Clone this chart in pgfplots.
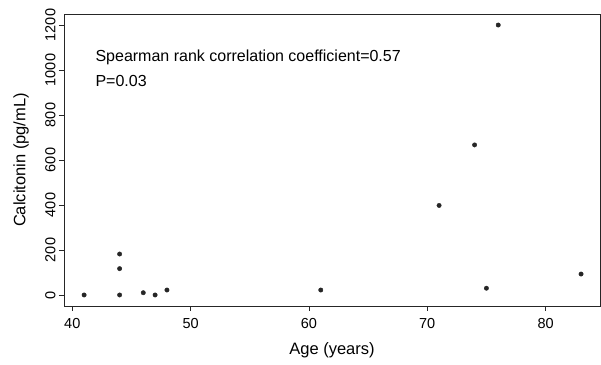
\documentclass[border=0pt]{standalone}
\usepackage{pgfplots}
\pgfplotsset{compat=1.18}
\usetikzlibrary{calc}
\usepackage{fontspec}
\setmainfont{Liberation Sans}
\begin{document}
\begin{tikzpicture}
\begin{axis}[
  name=ax,
  scale only axis,
  width=536pt, height=292pt,
  xmin=39.3, xmax=84.6,
  ymin=-49, ymax=1249,
  xtick={40,50,60,70,80},
  ytick={0,200,400,600,800,1000,1200},
  tick pos=left,
  tick align=outside,
  major tick length=5pt,
  tick style={line width=0.7pt, color=black!85},
  axis line style={line width=0.9pt, color=black!85},
  yticklabel style={rotate=90, anchor=south, font=\fontsize{14.5}{16}\selectfont},
  xticklabel style={font=\fontsize{14.5}{16}\selectfont, yshift=-4pt},
  /pgf/number format/assume math mode=true,
  /pgf/number format/1000 sep={},
  scaled y ticks=false,
  xlabel={Age (years)},
  ylabel={Calcitonin (pg/mL)},
  label style={font=\fontsize{16.5}{18}\selectfont},
  ylabel style={at={(axis description cs:-0.080,0.5)}, anchor=center},
  xlabel style={at={(axis description cs:0.5,-0.151)}, anchor=center},
  clip=false,
]
\addplot[only marks, mark=*, mark size=2.2pt, color=black!85] coordinates {
  (41,0) (44,0) (44,117) (44,182) (46,10) (47,0) (48,22)
  (61,22) (71,398) (74,667) (75,30) (76,1200) (83,93)
};
\node[anchor=west, inner sep=0pt, font=\fontsize{16}{18}\selectfont] at (axis cs:41.95,1058) {Spearman rank correlation coefficient=0.57};
\node[anchor=west, inner sep=0pt, font=\fontsize{16}{18}\selectfont] at (axis cs:41.95,951) {P=0.03};
\end{axis}
\pgfresetboundingbox
\useasboundingbox ($(ax.south west)+(-64pt,-59pt)$) rectangle ($(ax.north east)+(1pt,14pt)$);
\end{tikzpicture}
\end{document}
